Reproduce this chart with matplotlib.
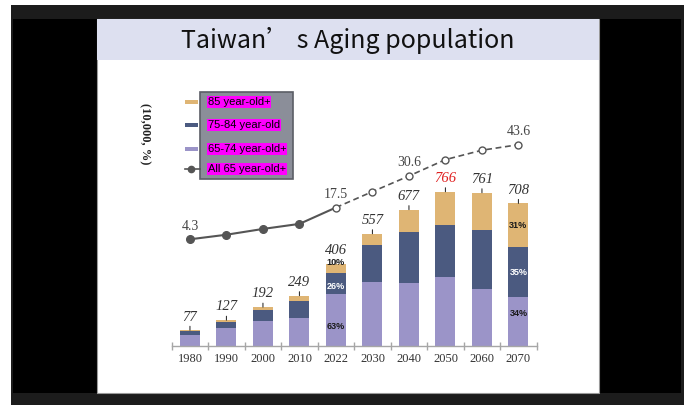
import matplotlib
matplotlib.use('Agg')
import matplotlib.pyplot as plt
from matplotlib.patches import Rectangle
from matplotlib.lines import Line2D
import numpy as np

# ---------------- data ----------------
years = ['1980', '1990', '2000', '2010', '2022', '2030', '2040', '2050', '2060', '2070']
totals = [77, 127, 192, 249, 406, 557, 677, 766, 761, 708]          # 10,000 persons
age65_74 = [55, 88, 121, 136, 256, 315, 310, 342, 284, 241]
age75_84 = [18, 32, 58, 88, 106, 184, 257, 258, 290, 248]
age85 = [4, 7, 13, 25, 44, 58, 110, 166, 187, 219]
pct_all65 = [4.3, 6.2, 8.6, 10.7, 17.5, 24.1, 30.6, 37.4, 41.3, 43.6]  # %
pct_label_idx = [0, 4, 6, 9]
share_labels = {4: ['63%', '26%', '10%'], 9: ['34%', '35%', '31%']}
share_colors = {4: ['#1a1a1a', 'white', '#1a1a1a'], 9: ['#1a1a1a', 'white', '#1a1a1a']}
share_offsets = {4: [-5, -2, 4], 9: [6, 0, 0]}   # points, label nudges
legend_labels = ['85 year-old+', '75-84 year-old', '65-74 year-old+', 'All 65 year-old+']
title = 'Taiwan’ s Aging population'
ylabel = '(10,000, %)'

c_tan = '#dfb574'
c_navy = '#4b5a80'
c_purple = '#9b94c8'
c_line = '#555555'

W, H = 694, 405
fig = plt.figure(figsize=(W / 100, H / 100), dpi=100)


def fx(x):
    return x / W


def fy(y):
    return 1 - y / H


def rect(x0, y0, x1, y1, fc, ec='none', lw=0, z=-5):
    fig.add_artist(Rectangle((fx(x0), fy(y1)), (x1 - x0) / W, (y1 - y0) / H,
                             transform=fig.transFigure, facecolor=fc,
                             edgecolor=ec, linewidth=lw, zorder=z))


# background frame / slide
rect(11, 5, 684, 405, '#1c1c1c')
rect(13, 19, 681, 393, '#000000')
rect(97, 19, 599, 393, '#ffffff', ec='#9a9a9a', lw=0.8)
rect(97, 19, 599, 60, '#dde0f0')

fig.text(fx(348), fy(41), title, ha='center', va='center', fontsize=18,
         family=['Noto Sans CJK TC', 'DejaVu Sans'], color='#111111')

# ---------------- bars ----------------
ax = fig.add_axes([fx(171.7), fy(345.7), 365 / W, 215.7 / H])
ax.patch.set_alpha(0)
ax.set_xlim(-0.5, 9.5)
ax.set_ylim(0, 1073)
x = np.arange(len(years))
bw = 0.55
ax.bar(x, age65_74, width=bw, color=c_purple, zorder=2)
ax.bar(x, age75_84, width=bw, bottom=age65_74, color=c_navy, zorder=2)
bottom3 = np.add(age65_74, age75_84)
ax.bar(x, age85, width=bw, bottom=bottom3, color=c_tan, zorder=2)

for s in ['left', 'top', 'right']:
    ax.spines[s].set_visible(False)
ax.spines['bottom'].set_color('#a6a6a6')
ax.spines['bottom'].set_linewidth(1)
ax.set_yticks([])
ax.set_xticks(x, years)
ax.tick_params(axis='x', which='major', length=0, pad=5, labelsize=9,
               labelcolor='#333333')
for lab in ax.get_xticklabels():
    lab.set_family('Liberation Serif')
ax.set_xticks(np.arange(-0.5, 10, 1), minor=True)
ax.tick_params(axis='x', which='minor', length=6, color='#a6a6a6',
               direction='inout', width=1)

for i, t in enumerate(totals):
    ax.annotate(str(t), (i, t), xytext=(0, 9.5), textcoords='offset points',
                ha='center', va='center', fontstyle='italic',
                family='Liberation Serif', fontsize=10.5,
                color='#e02020' if i == 7 else '#333333',
                arrowprops=dict(arrowstyle='-', color='#333333', lw=0.8,
                                shrinkA=0, shrinkB=0))

for i, labs in share_labels.items():
    segs = [(0, age65_74[i]), (age65_74[i], bottom3[i]), (bottom3[i], totals[i])]
    for (lo, hi), lab, col, off in zip(segs, labs, share_colors[i], share_offsets[i]):
        ax.annotate(lab, (i, (lo + hi) / 2), xytext=(0, off),
                    textcoords='offset points', ha='center', va='center',
                    fontsize=6.5, fontweight='bold', family='Liberation Sans',
                    color=col, zorder=4)

# ---------------- line ----------------
ax2 = ax.twinx()
ax2.set_ylim(-39.9, 49.7)
ax2.axis('off')
ax2.plot(x[:5], pct_all65[:5], '-', color=c_line, lw=1.5, zorder=3)
ax2.plot(x[4:], pct_all65[4:], '--', color=c_line, lw=1.2, dashes=(3.5, 2.2), zorder=3)
ax2.plot(x[:4], pct_all65[:4], 'o', ms=5.5, color=c_line, zorder=4)
ax2.plot(x[4:], pct_all65[4:], 'o', ms=5, mfc='white', mec=c_line, mew=1, zorder=4)
for i in pct_label_idx:
    ax2.annotate(f'{pct_all65[i]}', (i, pct_all65[i]), xytext=(0, 9.5),
                 textcoords='offset points', ha='center', va='center',
                 family='Liberation Serif', fontsize=10, color='#444444')

# ---------------- legend (custom) ----------------
rect(200, 92, 293, 179, '#8b8e99', ec='#5b5e66', lw=1.2, z=5)
rows = [102, 125, 149, 169]
for y, col in zip(rows[:3], [c_tan, c_navy, c_purple]):
    rect(185, y - 2.3, 198, y + 2.3, col, z=6)
fig.add_artist(Line2D([fx(185), fx(200)], [fy(rows[3]), fy(rows[3])],
                      transform=fig.transFigure, color=c_line, lw=1.2, zorder=6))
fig.add_artist(Line2D([fx(191)], [fy(rows[3])], transform=fig.transFigure,
                      color=c_line, marker='o', ms=4.5, zorder=6))
for y, lab in zip(rows, legend_labels):
    fig.text(fx(207.5), fy(y), lab, ha='left', va='center', fontsize=8,
             family='Liberation Sans', color='black', zorder=7,
             bbox=dict(boxstyle='square,pad=0.08', fc='#ff00ff', ec='none'))

fig.text(fx(145), fy(134), ylabel, rotation=-90, ha='center', va='center',
         fontsize=9, fontweight='bold', family='Liberation Serif', color='#222222')

fig.savefig('out.png', dpi=100)
